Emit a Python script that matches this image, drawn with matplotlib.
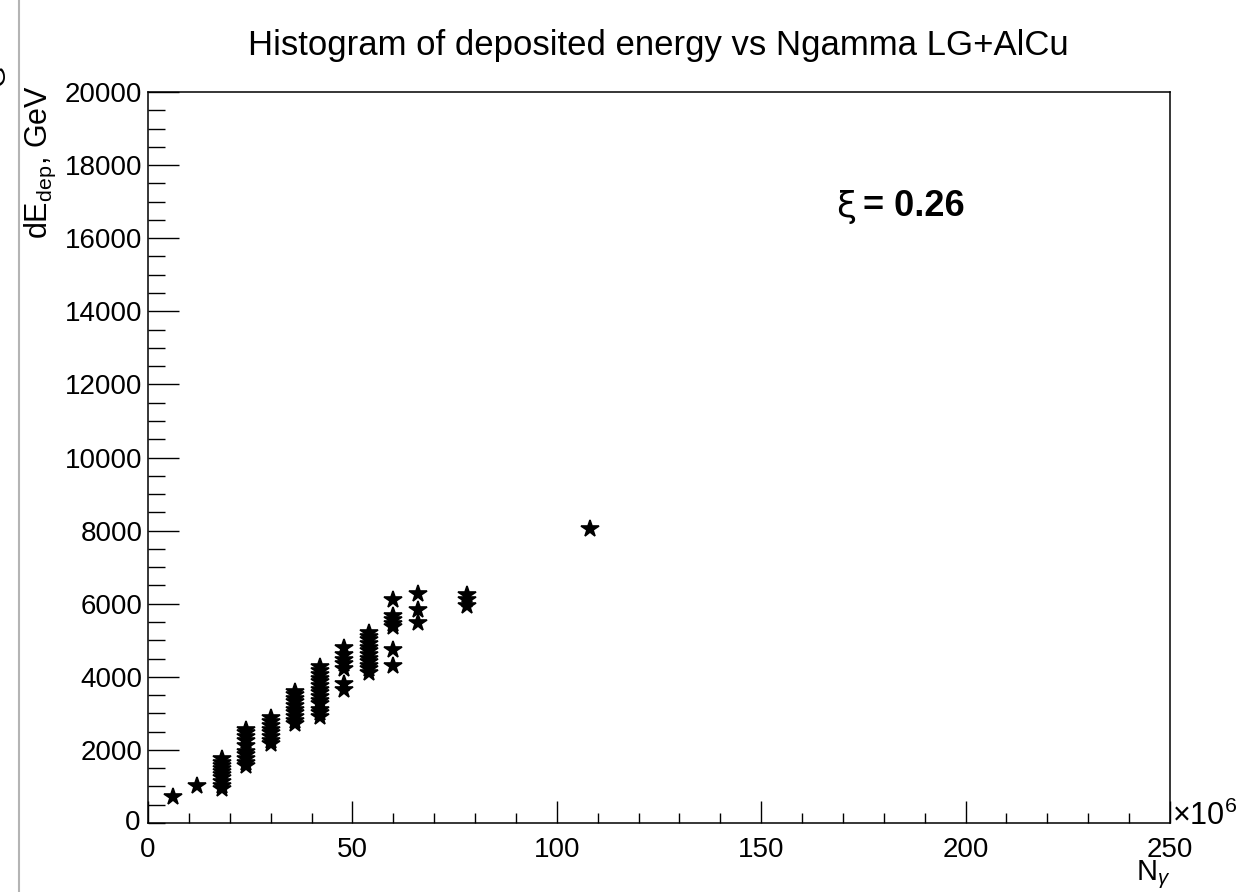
import matplotlib
matplotlib.use("Agg")
import matplotlib.pyplot as plt
from matplotlib.ticker import MultipleLocator

plt.rcParams["font.family"] = ["Liberation Sans", "DejaVu Sans"]
plt.rcParams["mathtext.fontset"] = "custom"
plt.rcParams["mathtext.rm"] = "Liberation Sans"
plt.rcParams["mathtext.it"] = "Liberation Sans:italic"

# N_gamma (in units of 1e6) and deposited energy (GeV) for each group of events
n_gamma = [6, 12, 18, 24, 30, 36, 42, 48, 54, 60, 66, 78, 108]
e_dep = [
    [700],
    [1010],
    [920, 1020, 1130, 1230, 1320, 1400, 1480, 1560, 1650, 1750],
    [1550, 1650, 1750, 1850, 1950, 2100, 2250, 2350, 2450, 2550],
    [2150, 2250, 2350, 2450, 2550, 2650, 2750, 2880],
    [2700, 2800, 2900, 3000, 3100, 3200, 3300, 3400, 3500, 3580],
    [2900, 3000, 3100, 3250, 3350, 3450, 3550, 3650, 3750, 3850, 3950, 4050, 4150, 4280],
    [3650, 3800, 4200, 4350, 4450, 4600, 4800],
    [4100, 4200, 4300, 4400, 4500, 4600, 4700, 4800, 4900, 5000, 5100, 5200],
    [4300, 4730, 5350, 5450, 5550, 5650, 6100],
    [5470, 5830, 6270],
    [5950, 6100, 6230],
    [8050],
]
xi_value = 0.26

xs = [x for x, ys in zip(n_gamma, e_dep) for _ in ys]
ys = [y for row in e_dep for y in row]

fig = plt.figure(figsize=(12.4, 8.92), dpi=100)
ax = fig.add_axes([148 / 1240, 69 / 892, 1022 / 1240, 731 / 892])

ax.plot(xs, ys, linestyle="none", marker="*", markersize=13,
        color="black", markeredgecolor="black", markeredgewidth=1.2)

ax.set_xlim(0, 250)
ax.set_ylim(0, 20000)
ax.xaxis.set_major_locator(MultipleLocator(50))
ax.xaxis.set_minor_locator(MultipleLocator(10))
ax.yaxis.set_major_locator(MultipleLocator(2000))
ax.yaxis.set_minor_locator(MultipleLocator(500))
ax.tick_params(axis="both", which="both", direction="in", top=False, right=False,
               labelsize=20, width=1)
ax.tick_params(axis="x", which="major", length=16, pad=10)
ax.tick_params(axis="x", which="minor", length=7)
ax.tick_params(axis="y", which="major", length=22, pad=4)
ax.tick_params(axis="y", which="minor", length=12)
for s in ax.spines.values():
    s.set_linewidth(1.1)

# ROOT-like offset of the two zero labels
ax.set_yticks(range(2000, 20001, 2000))
fig.text(133 / 1240, 1 - 823 / 892, "0", fontsize=20, ha="center", va="center")

fig.text(1172 / 1240, 1 - 832 / 892, r"$\times$10$^{6}$", fontsize=22,
         ha="left", va="bottom")
fig.text(1170 / 1240, 1 - 875 / 892, r"N$_{\gamma}$", fontsize=21, ha="right", va="center")
fig.text(40 / 1240, 1 - 85 / 892, r"dE$_{\mathrm{dep}}$, GeV", fontsize=22,
         rotation=90, ha="center", va="top")

fig.text(658 / 1240, 1 - 45 / 892, "Histogram of deposited energy vs Ngamma LG+AlCu",
         fontsize=25, ha="center", va="center")

fig.text(836 / 1240, 1 - 207 / 892, "\u03be", fontsize=26, ha="left", va="center",
         family="DejaVu Sans")
fig.text(863 / 1240, 1 - 207 / 892, f"= {xi_value}", fontsize=26, ha="left",
         va="center", fontweight="bold")

# remnant of a neighbouring pad on the left edge
fig.add_artist(plt.Line2D([19 / 1240, 19 / 1240], [0, 1], transform=fig.transFigure,
                          color="#b4b4b4", linewidth=1.5))
fig.text(-2 / 1240, 1 - 75 / 892, "G", fontsize=20, rotation=90, ha="center", va="center")

fig.savefig("out.png", dpi=100)
